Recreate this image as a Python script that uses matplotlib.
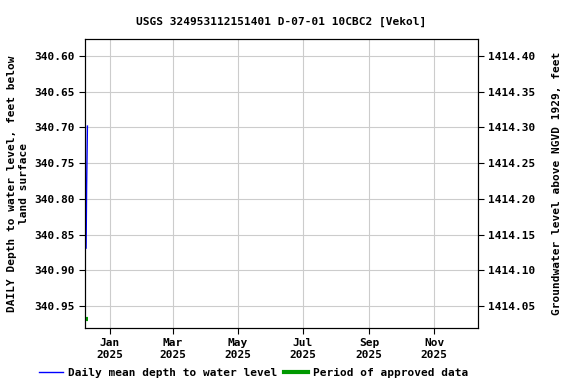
import matplotlib
matplotlib.use('Agg')
from matplotlib import pyplot as plt
from matplotlib.lines import Line2D
import datetime as dt

# daily mean depth to water (feet below land surface)
depth_dates = [dt.datetime(2024, 12, 10), dt.datetime(2024, 12, 10, 12), dt.datetime(2024, 12, 11, 6)]
depth_vals = [340.869, 340.783, 340.698]

# period of approved data
approved_dates = [dt.datetime(2024, 12, 9), dt.datetime(2024, 12, 12)]
approved_vals = [340.968, 340.968]

tick_dates = [dt.datetime(2025, m, 1) for m in (1, 3, 5, 7, 9, 11)]
tick_labels = ['Jan\n2025', 'Mar\n2025', 'May\n2025', 'Jul\n2025', 'Sep\n2025', 'Nov\n2025']
yticks = [340.60, 340.65, 340.70, 340.75, 340.80, 340.85, 340.90, 340.95]
datum_sum = 1755.0

plt.rcParams['font.family'] = ['DejaVu Sans Mono']
plt.rcParams['font.size'] = 8
plt.rcParams['font.weight'] = 'bold'
plt.rcParams['axes.titleweight'] = 'bold'
plt.rcParams['axes.labelweight'] = 'bold'

fig = plt.figure(figsize=(5.76, 3.84), dpi=100)
ax = fig.add_axes([0.1476, 0.1458, 0.6823, 0.7526])

ax.plot(depth_dates, depth_vals, color='#0000ff', linewidth=1)
ax.plot(approved_dates, approved_vals, color='#009900', linewidth=3, solid_capstyle='butt')

ax.set_xlim(dt.datetime(2024, 12, 9), dt.datetime(2025, 12, 12))
ylo, yhi = 340.981, 340.576
ax.set_ylim(ylo, yhi)
ax.set_yticks(yticks)
ax.set_yticklabels(['%.2f' % v for v in yticks])
ax.set_xticks(tick_dates)
ax.set_xticklabels(tick_labels)
ax.grid(True, color='#cccccc', linewidth=0.8)
ax.set_axisbelow(True)
ax.tick_params(direction='out', length=4)
ax.set_ylabel('DAILY Depth to water level, feet below\nland surface', ha='center')

ax2 = ax.twinx()
ax2.set_ylim(datum_sum - ylo, datum_sum - yhi)
rticks = [datum_sum - v for v in yticks]
ax2.set_yticks(rticks)
ax2.set_yticklabels(['%.2f' % v for v in rticks])
ax2.tick_params(direction='out', length=4)
ax2.set_ylabel('Groundwater level above NGVD 1929, feet', labelpad=12)

ax.set_title('USGS 324953112151401 D-07-01 10CBC2 [Vekol]', fontsize=8, pad=10)

handles = [Line2D([], [], color='#0000ff', linewidth=1),
           Line2D([], [], color='#009900', linewidth=3)]
fig.legend(handles, ['Daily mean depth to water level', 'Period of approved data'],
           loc='lower center', bbox_to_anchor=(0.44, -0.01), ncol=2, frameon=False,
           handlelength=2.2, columnspacing=0.6, handletextpad=0.4)

plt.savefig('out.png')
plt.close(fig)
